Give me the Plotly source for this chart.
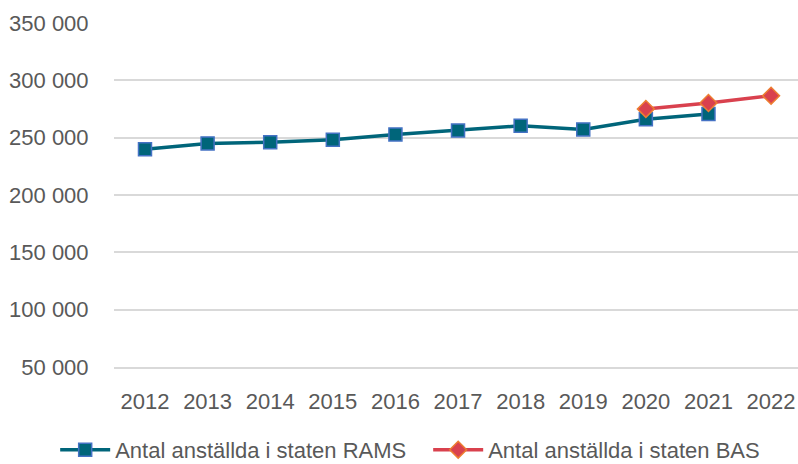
import plotly.graph_objects as go

years = ["2012", "2013", "2014", "2015", "2016", "2017", "2018", "2019", "2020", "2021", "2022"]
rams = [239900, 245000, 246000, 248100, 252800, 256200, 260300, 257200, 266000, 270700, None]
bas = [None, None, None, None, None, None, None, None, 275100, 280200, 286600]
yticks = [50000, 100000, 150000, 200000, 250000, 300000, 350000]
ytick_text = ["50 000", "100 000", "150 000", "200 000", "250 000", "300 000", "350 000"]

FONT = "Liberation Sans, Arial, sans-serif"
GREY = "#595959"

fig = go.Figure()
fig.add_trace(go.Scatter(
    x=list(range(len(years))), y=rams, name="Antal anställda i staten RAMS",
    mode="lines+markers",
    line=dict(color="#00657A", width=3.5),
    marker=dict(symbol="square", size=13, color="#00657A",
                line=dict(color="#4472C4", width=1.5)),
))
fig.add_trace(go.Scatter(
    x=list(range(len(years))), y=bas, name="Antal anställda i staten BAS",
    mode="lines+markers",
    line=dict(color="#D9414E", width=3.5),
    marker=dict(symbol="diamond", size=13, color="#D9414E",
                line=dict(color="#ED7D31", width=1.5)),
))

fig.update_layout(
    width=798, height=464,
    margin=dict(l=114, r=0, t=23, b=97, autoexpand=False),
    paper_bgcolor="white", plot_bgcolor="white",
    font=dict(family=FONT, size=22, color=GREY),
    showlegend=True,
    # legend below the plot area, so it may use the full width on one row
    legend=dict(orientation="h", x=-0.086, xanchor="left",
                y=-0.241, yanchor="middle",
                itemwidth=50, entrywidth=308, entrywidthmode="pixels",
                font=dict(size=22, color=GREY),
                traceorder="normal"),
)
fig.update_xaxes(
    range=[-0.495, 10.43], tickmode="array",
    tickvals=list(range(len(years))), ticktext=years,
    showgrid=False, zeroline=False, automargin=False,
    showline=True, linecolor="#D9D9D9", linewidth=1.5,
    ticks="outside", ticklen=14, tickcolor="rgba(0,0,0,0)",
)
fig.update_yaxes(
    range=[50000, 350000], tickmode="array",
    tickvals=yticks, ticktext=ytick_text,
    showgrid=True, gridcolor="#D9D9D9", gridwidth=1.5,
    zeroline=False, showline=False, automargin=False,
    ticks="outside", ticklen=20, tickcolor="rgba(0,0,0,0)",
)

# drop the default body margin so the figure fills the window exactly
fig.write_html("out.html", config={"displayModeBar": False},
               post_script="document.body.style.margin='0';")
